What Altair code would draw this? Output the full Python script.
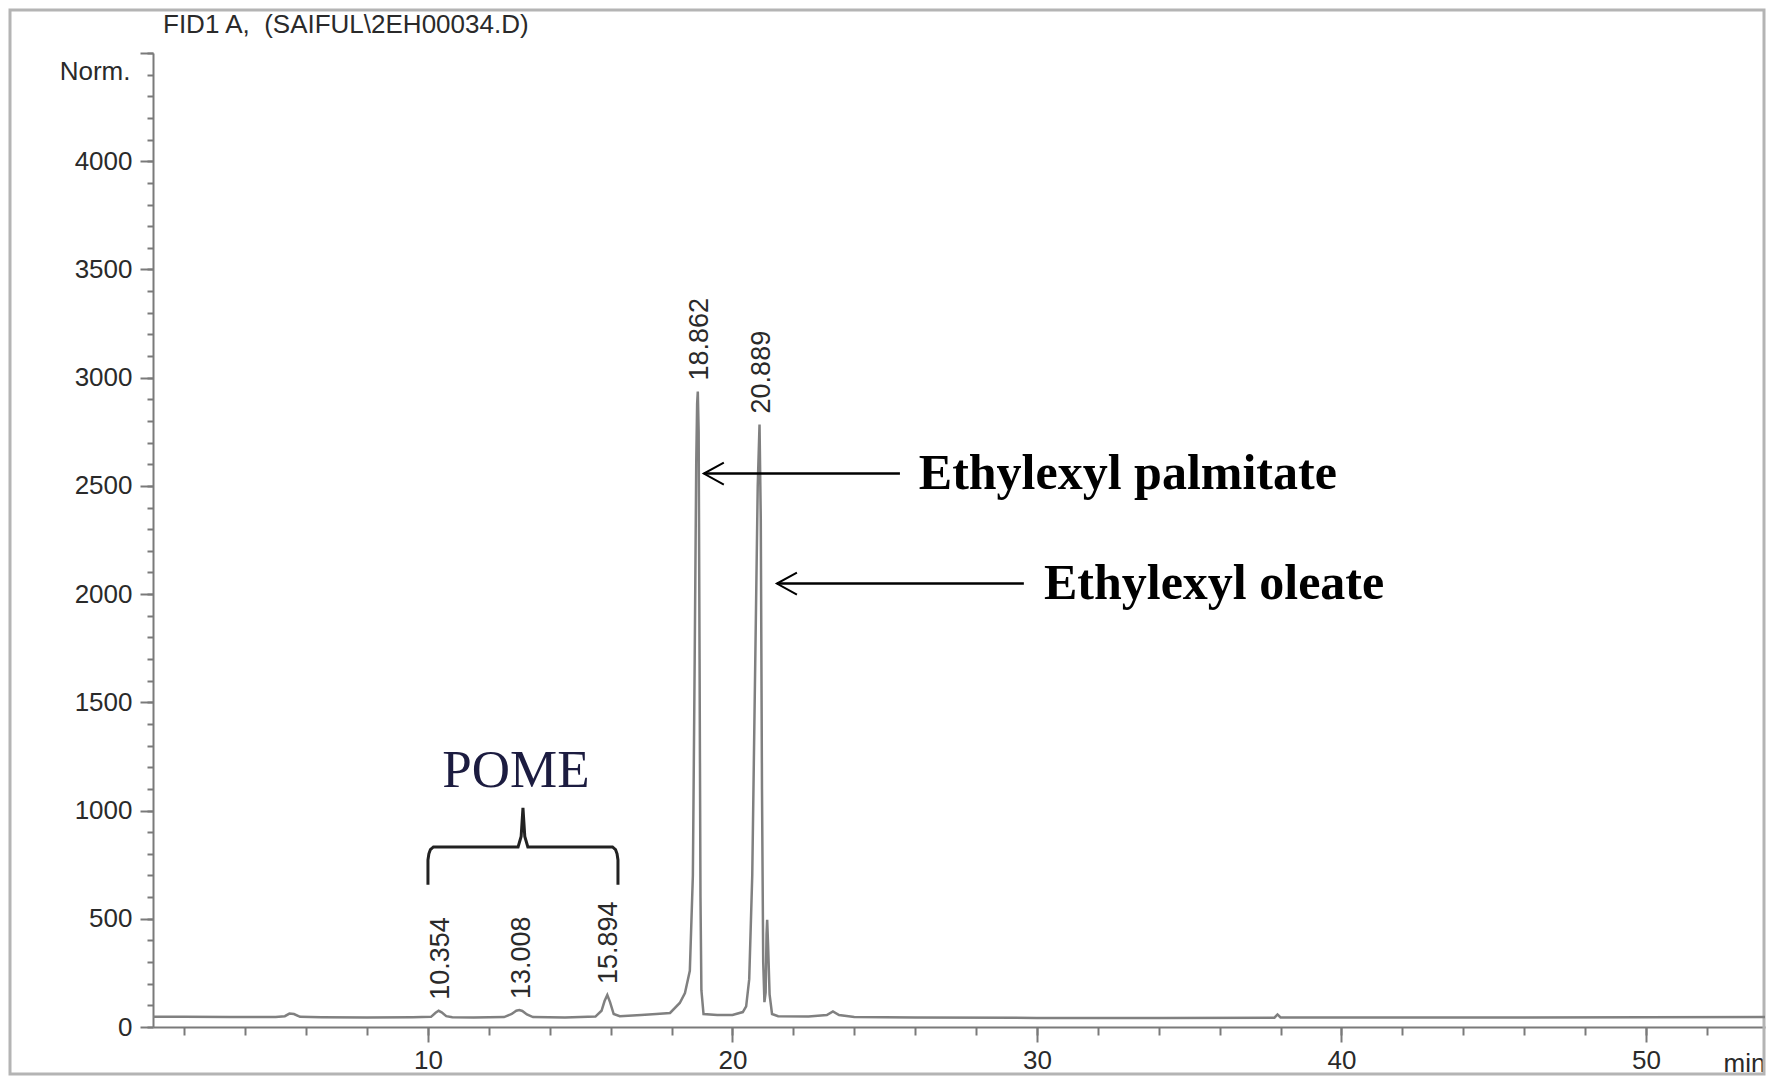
import altair as alt
import pandas as pd

# ---------------- data ----------------
time_min = [
    0.97, 2.0, 3.5, 5.0, 5.3, 5.45, 5.6, 5.8, 6.5, 8.0, 9.5,
    10.1, 10.25, 10.35, 10.45, 10.6, 10.8, 11.5, 12.5,
    12.75, 12.9, 13.0, 13.1, 13.25, 13.45, 14.5, 15.5,
    15.7, 15.8, 15.89, 15.98, 16.1, 16.3, 17.0, 17.5, 17.95,
    18.27, 18.44, 18.6, 18.7, 18.76, 18.81, 18.84, 18.862, 18.89, 18.92, 18.95, 18.98, 19.05, 19.5, 20.0,
    20.34, 20.45, 20.55, 20.65, 20.75, 20.83, 20.889, 20.93, 20.97, 21.01, 21.05, 21.09, 21.12, 21.14, 21.17, 21.22, 21.3, 21.5,
    22.5, 23.1, 23.3, 23.5, 24.0, 26.0, 30.0, 34.0, 37.8, 37.9, 38.0, 42.0, 46.0, 50.0, 53.91,
]
signal = [
    47, 47, 46, 46, 50, 62, 60, 47, 45, 44, 45,
    47, 66, 75, 68, 50, 45, 44, 46,
    60, 75, 78, 74, 58, 46, 44, 48,
    75, 120, 148, 115, 60, 50, 55, 60, 65,
    111, 157, 260, 700, 1700, 2600, 2880, 2936, 2750, 1700, 600, 170, 60, 55, 56,
    69, 95, 220, 700, 1700, 2500, 2784, 2350, 1100, 300, 115, 160, 430, 495, 380, 150, 60, 50,
    48, 55, 72, 55, 46, 44, 42, 42, 43, 58, 44, 44, 44, 45, 46,
]

peak_rt = [10.354, 13.008, 15.894, 18.862, 20.889]
peak_top = [75, 78, 148, 2936, 2784]
peak_label = ["10.354", "13.008", "15.894", "18.862", "20.889"]

ann_text = ["Ethylexyl palmitate", "Ethylexyl oleate"]
ann_tip_x = [19.06, 21.46]
ann_tail_x = [25.5, 29.57]
ann_text_x = [26.12, 30.23]
ann_y = [2557, 2049]

brace_x = [10.0, 10.0, 10.03, 10.08, 10.18, 12.96, 13.06, 13.12, 13.18, 13.28, 16.06, 16.16, 16.21, 16.24, 16.24]
brace_y = [657, 772, 800, 820, 832, 832, 880, 1013, 880, 832, 832, 820, 800, 772, 657]

pome_text = ["POME"]
pome_x = [12.89]
pome_y = [1181]

title_text = "FID1 A,\u00a0 (SAIFUL\\2EH00034.D)"

x_major = [10, 20, 30, 40, 50]
x_minor = list(range(2, 54, 2))
y_major = list(range(0, 4501, 500))
y_minor = list(range(0, 4501, 100))

X_DOMAIN = [0.97, 53.91]
Y_DOMAIN = [0, 4500]
W, H = 1612, 974

# ---------------- tables ----------------
sig = pd.DataFrame({"t": time_min, "s": signal})
peaks = pd.DataFrame({"rt": peak_rt, "top": peak_top, "lab": peak_label})
ann = pd.DataFrame({"txt": ann_text, "tip": ann_tip_x, "tail": ann_tail_x,
                    "tx": ann_text_x, "ay": ann_y})
brace = pd.DataFrame({"bx": brace_x, "by": brace_y, "i": list(range(len(brace_x)))})
pome = pd.DataFrame({"txt": pome_text, "px": pome_x, "py": pome_y})
one = pd.DataFrame({"a": [0]})

xs = alt.Scale(domain=X_DOMAIN, nice=False, zero=False)
ys = alt.Scale(domain=Y_DOMAIN, nice=False, zero=False)

GRAY = "#7a7a7a"
LABEL = "#2a2a2a"
SANS = "Liberation Sans"
SERIF = "Liberation Serif"

common_ax = dict(grid=False, tickColor=GRAY, tickWidth=2, domainColor=GRAY,
                 domainWidth=2, labelFont=SANS, labelFontSize=26,
                 labelColor=LABEL, titleFont=SANS, titleFontSize=26,
                 titleFontWeight="normal", titleColor=LABEL,
                 labelBound=False, labelFlush=False, format="d")

x_major_axis = alt.Axis(orient="bottom", values=x_major, tickSize=15, labelPadding=5,
                        title="min", titleX=W, titleY=44, titleAlign="right",
                        titleBaseline="alphabetic", **common_ax)
y_major_axis = alt.Axis(orient="left", values=y_major, tickSize=13, labelPadding=8,
                        title="Norm.", titleAngle=0, titleX=-23, titleY=18,
                        titleAlign="right", titleBaseline="middle",
                        labelExpr="datum.value >= 4500 ? '' : datum.label", **common_ax)
x_minor_axis = alt.Axis(orient="bottom", values=x_minor, tickSize=8, labels=False,
                        domain=False, grid=False, tickColor=GRAY, tickWidth=2, title="")
y_minor_axis = alt.Axis(orient="left", values=y_minor, tickSize=6, labels=False,
                        domain=False, grid=False, tickColor=GRAY, tickWidth=2, title="")

line = alt.Chart(sig).mark_line(color="#808080", strokeWidth=2.5).encode(
    x=alt.X("t:Q", scale=xs, axis=x_major_axis),
    y=alt.Y("s:Q", scale=ys, axis=y_major_axis),
)
minor = alt.Chart(sig).mark_line(opacity=0).encode(
    x=alt.X("t:Q", scale=xs, axis=x_minor_axis),
    y=alt.Y("s:Q", scale=ys, axis=y_minor_axis),
)

peak_text = alt.Chart(peaks).mark_text(
    angle=270, align="left", baseline="middle", dx=11, dy=2,
    font=SANS, fontSize=27, color="#2a2a2a",
).encode(
    x=alt.X("rt:Q", scale=xs, axis=None),
    y=alt.Y("top:Q", scale=ys, axis=None),
    text="lab:N",
)

arrows = alt.Chart(ann).mark_rule(color="black", strokeWidth=2.5).encode(
    x=alt.X("tip:Q", scale=xs, axis=None),
    x2="tail:Q",
    y=alt.Y("ay:Q", scale=ys, axis=None),
)
heads = alt.Chart(ann).mark_point(
    shape="M2,-1.1L0,0L2,1.1", size=400, filled=False, stroke="black",
    strokeWidth=2, opacity=1,
).encode(
    x=alt.X("tip:Q", scale=xs, axis=None),
    y=alt.Y("ay:Q", scale=ys, axis=None),
)
ann_labels = alt.Chart(ann).mark_text(
    align="left", baseline="middle", font=SERIF, fontSize=50,
    fontWeight="bold", color="black",
).encode(
    x=alt.X("tx:Q", scale=xs, axis=None),
    y=alt.Y("ay:Q", scale=ys, axis=None),
    text="txt:N",
)

brace_line = alt.Chart(brace).mark_line(color="#222222", strokeWidth=3).encode(
    x=alt.X("bx:Q", scale=xs, axis=None),
    y=alt.Y("by:Q", scale=ys, axis=None),
    order="i:Q",
)
pome_label = alt.Chart(pome).mark_text(
    align="center", baseline="middle", font=SERIF, fontSize=53, color="#1c1c40",
).encode(
    x=alt.X("px:Q", scale=xs, axis=None),
    y=alt.Y("py:Q", scale=ys, axis=None),
    text="txt:N",
)

title = alt.Chart(one).mark_text(
    text=title_text, align="left", baseline="middle", font=SANS,
    fontSize=26, color=LABEL,
).encode(x=alt.value(10), y=alt.value(-28))

frame = alt.Chart(one).mark_rect(
    fillOpacity=0, stroke="#b4b4b4", strokeWidth=3,
).encode(x=alt.value(-143), x2=alt.value(1611), y=alt.value(-43), y2=alt.value(1021))

chart = alt.layer(
    frame, minor, line, peak_text, arrows, heads, ann_labels, brace_line, pome_label, title,
).resolve_axis(x="independent", y="independent").properties(
    width=W, height=H,
    padding={"left": 145, "top": 45, "right": 1, "bottom": 54},
    autosize=alt.AutoSizeParams(type="none"),
    background="white",
).configure_view(strokeWidth=0)

chart.save("out.html", embed_options={"renderer": "svg", "actions": False})
